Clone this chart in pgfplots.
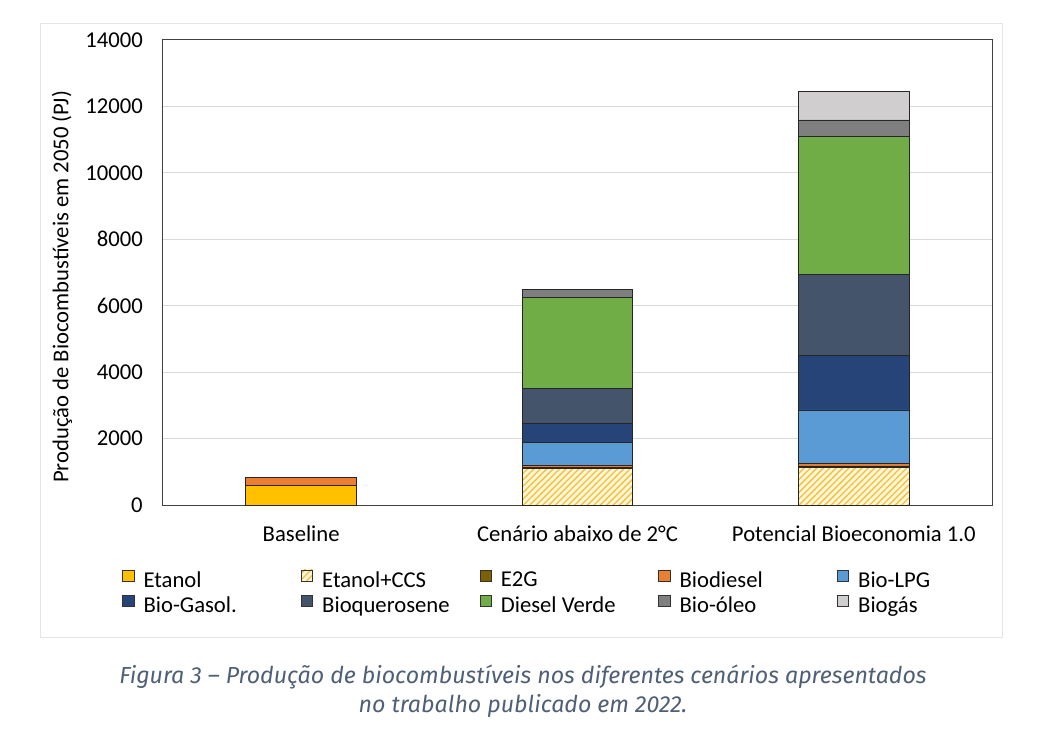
\documentclass[border=0pt]{standalone}
\usepackage{pgfplots}
\pgfplotsset{compat=1.18}
\usepackage{fontspec}
\setmainfont{Carlito}
\newfontfamily\capfont{Fira Sans}
\usetikzlibrary{patterns.meta}
\definecolor{cEtanol}{HTML}{FFC000}
\definecolor{cCCS}{HTML}{F2C040}
\definecolor{cCCSbg}{HTML}{FFF6D5}
\definecolor{cE2G}{HTML}{7F6000}
\definecolor{cBiodiesel}{HTML}{ED7D31}
\definecolor{cLPG}{HTML}{5B9BD5}
\definecolor{cGasol}{HTML}{264478}
\definecolor{cQuer}{HTML}{44546A}
\definecolor{cDiesel}{HTML}{70AD47}
\definecolor{cOleo}{HTML}{7F7F7F}
\definecolor{cBiogas}{HTML}{D0CECE}
\definecolor{capc}{HTML}{4F5F75}
\definecolor{gridc}{HTML}{D9D9D9}
\newcommand{\lgb}[1]{\makebox[116pt][l]{#1}}
\begin{document}
\begin{tikzpicture}
\path[use as bounding box] (0,0) rectangle (785.25pt,555pt);
\begin{scope}[shift={(0,555pt)}, x=0.75pt, y=-0.75pt]
\draw[draw=black!10, line width=0.75pt] (40,24) rectangle (1002,637);
\node[font=\capfont\itshape\fontsize{17.4}{20}\selectfont, text=capc] at (523,677) {Figura 3 – Produção de biocombustíveis nos diferentes cenários apresentados};
\node[font=\capfont\itshape\fontsize{17.4}{20}\selectfont, text=capc] at (523,706) {no trabalho publicado em 2022.};
\end{scope}
\begin{axis}[
  at={(122.25pt,176.25pt)}, anchor=south west,
  scale only axis, width=621.75pt, height=348.75pt,
  ybar stacked, bar width=0.4,
  xmin=-0.5, xmax=2.5, ymin=0, ymax=14000,
  xtick={0,1,2},
  xticklabels={Baseline, Cenário abaixo de 2°C, Potencial Bioeconomia 1.0},
  ytick={0,2000,...,14000},
  scaled y ticks=false,
  yticklabel style={/pgf/number format/fixed, /pgf/number format/1000 sep={}},
  major tick length=0pt,
  /pgf/number format/assume math mode=true,
  ymajorgrids, grid style={draw=gridc, line width=0.75pt},
  axis line style={draw=black!75, line width=0.75pt},
  tick label style={font=\fontsize{17}{20}\selectfont, text=black},
  yticklabel style={inner sep=0pt, anchor=east, xshift=-15pt},
  xticklabel style={inner sep=0pt, anchor=north, yshift=-15pt},
  ylabel={Produção de Biocombustíveis em 2050 (PJ)},
  every axis y label/.style={at={(axis description cs:-0.1218,0.469)}, rotate=90, anchor=center, font=\fontsize{17}{20}\selectfont},
  every axis plot/.append style={draw=black!85, line width=0.6pt},
  legend columns=5,
  legend style={at={(axis description cs:-0.0495,-0.137)}, anchor=north west,
    draw=none, fill=none, inner sep=0pt, row sep=1.5pt,
    font=\fontsize{17}{20}\selectfont,
    /tikz/every odd column/.append style={column sep=5pt}},
  legend image code/.code={\draw[#1, draw=black!80, line width=0.5pt] (0pt,-0.5pt) rectangle (8.5pt,8pt);},
]
\addplot[fill=cEtanol] coordinates {(0,595) (1,0) (2,0)};
\addplot[fill=cCCSbg, postaction={pattern={Lines[angle=45,distance=3.4pt,line width=1pt]}, pattern color=cCCS}] coordinates {(0,0) (1,1105) (2,1135)};
\addplot[fill=cE2G] coordinates {(0,0) (1,20) (2,40)};
\addplot[fill=cBiodiesel] coordinates {(0,240) (1,80) (2,70)};
\addplot[fill=cLPG] coordinates {(0,0) (1,671) (2,1616)};
\addplot[fill=cGasol] coordinates {(0,0) (1,584) (2,1647)};
\addplot[fill=cQuer] coordinates {(0,0) (1,1054) (2,2438)};
\addplot[fill=cDiesel] coordinates {(0,0) (1,2740) (2,4144)};
\addplot[fill=cOleo] coordinates {(0,0) (1,241) (2,502)};
\addplot[fill=cBiogas] coordinates {(0,0) (1,0) (2,873)};
\legend{\lgb{Etanol},\lgb{Etanol+CCS},\lgb{E2G},\lgb{Biodiesel},\lgb{Bio-LPG},\lgb{Bio-Gasol.},\lgb{Bioquerosene},\lgb{Diesel Verde},\lgb{Bio-óleo},\lgb{Biogás}}
\end{axis}
\end{tikzpicture}
\end{document}
